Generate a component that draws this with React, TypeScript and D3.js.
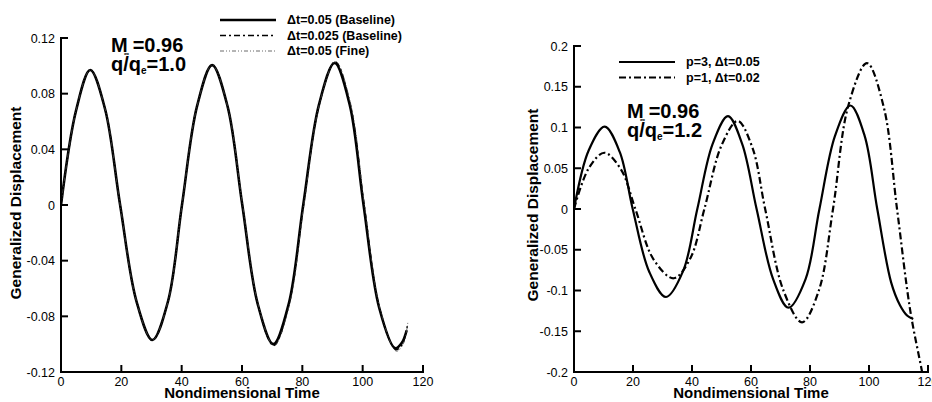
import React from 'react';
import * as d3 from 'd3';

// Two panels of generalized displacement vs nondimensional time.

const W = 932;
const H = 402;
const FONT = 'Liberation Sans, Arial, Helvetica, sans-serif';

// Left panel: three time-step studies, M=0.96, q/qe=1.0
const L_BASE_T = [0, 5, 9.7, 14.6, 19.6, 25, 30.3, 35.5, 40.1, 45.1, 50.1, 55.2, 60.1, 65.2, 70.4, 75.5, 80.3, 85.5, 90.7, 95.7, 100.3, 105.5, 110.8, 113, 114.6];
const L_BASE_V = [0, 0.068, 0.097, 0.069, 0, -0.069, -0.097, -0.069, 0, 0.071, 0.1005, 0.071, 0, -0.071, -0.1, -0.071, 0, 0.072, 0.102, 0.072, 0, -0.074, -0.103, -0.099, -0.09];
const L_HALF_T = [0, 5, 9.7, 14.6, 19.6, 25, 30.3, 35.5, 40.1, 45.1, 50.1, 55.2, 60.1, 65.2, 70.5, 75.6, 80.4, 85.6, 90.9, 95.9, 100.5, 105.7, 111, 113.2, 114.8];
const L_HALF_V = [0, 0.068, 0.097, 0.069, 0, -0.069, -0.097, -0.069, 0, 0.071, 0.1005, 0.071, 0, -0.071, -0.101, -0.071, 0, 0.072, 0.103, 0.072, 0, -0.075, -0.104, -0.1, -0.087];
const L_FINE_T = [0, 5, 9.7, 14.6, 19.6, 25, 30.3, 35.5, 40.1, 45.1, 50.1, 55.2, 60.2, 65.3, 70.6, 75.7, 80.5, 85.7, 91, 96, 100.6, 105.8, 111.2, 113.4, 115];
const L_FINE_V = [0, 0.068, 0.097, 0.069, 0, -0.069, -0.097, -0.069, 0, 0.071, 0.1005, 0.071, 0, -0.071, -0.101, -0.072, 0, 0.073, 0.103, 0.073, 0, -0.075, -0.105, -0.1, -0.084];

const L_Y_TICKS = [-0.12, -0.08, -0.04, 0, 0.04, 0.08, 0.12];
const L_Y_LABELS = ['-0.12', '-0.08', '-0.04', '0', '0.04', '0.08', '0.12'];
const L_LEGEND = ['\u0394t=0.05 (Baseline)', '\u0394t=0.025 (Baseline)', '\u0394t=0.05 (Fine)'];

// Right panel: p=3 vs p=1, M=0.96, q/qe=1.2
const R_P3_T = [0, 5, 10.4, 15.5, 19.9, 25.5, 31.2, 37, 41.8, 47, 52.2, 57, 61.9, 67.5, 72.7, 78.5, 83.2, 88.5, 93.7, 98.5, 102.8, 107.5, 110.5, 113, 115];
const R_P3_V = [0, 0.072, 0.101, 0.07, 0, -0.077, -0.108, -0.076, 0, 0.08, 0.114, 0.08, 0, -0.086, -0.121, -0.086, 0, 0.09, 0.127, 0.09, 0, -0.09, -0.118, -0.131, -0.135];
const R_P1_T = [0, 5, 10.3, 16, 20.8, 27, 33.8, 39.5, 44.2, 50, 55.5, 60.5, 64.8, 71, 77.3, 83, 87.8, 93, 99.3, 105, 109.5, 114, 118, 120];
const R_P1_V = [0, 0.05, 0.069, 0.048, 0, -0.062, -0.085, -0.06, 0, 0.078, 0.108, 0.075, 0, -0.1, -0.139, -0.1, 0, 0.127, 0.179, 0.125, 0, -0.125, -0.2, -0.24];

const R_Y_TICKS = [-0.2, -0.15, -0.1, -0.05, 0, 0.05, 0.1, 0.15, 0.2];
const R_Y_LABELS = ['-0.2', '-0.15', '-0.1', '-0.05', '0', '0.05', '0.1', '0.15', '0.2'];
const R_LEGEND = ['p=3, \u0394t=0.05', 'p=1, \u0394t=0.02'];

const X_TICKS = [0, 20, 40, 60, 80, 100, 120];

type Series = { t: number[]; v: number[]; width: number; dash?: string; color: string };

function Panel({
  id, x0, x1, yTop, yBot, yDomain, yTicks, yLabels, series, legend, legendX, legendY,
  noteX, noteY, qText, titleX, titleY,
}: {
  id: string; x0: number; x1: number; yTop: number; yBot: number; yDomain: [number, number];
  yTicks: number[]; yLabels: string[]; series: Series[]; legend: string[];
  legendX: number; legendY: number; noteX: number; noteY: number; qText: string;
  titleX: number; titleY: number;
}) {
  const x = d3.scaleLinear().domain([0, 120]).range([x0, x1]);
  const y = d3.scaleLinear().domain(yDomain).range([yBot, yTop]);
  const line = d3.line<[number, number]>().x((d) => x(d[0])).y((d) => y(d[1])).curve(d3.curveCatmullRom.alpha(0.5));

  return (
    <g>
      <defs>
        <clipPath id={`clip-${id}`}>
          <rect x={x0} y={yTop - 2} width={x1 - x0 + 4} height={yBot - yTop + 2} />
        </clipPath>
      </defs>
      {/* curves */}
      <g clipPath={`url(#clip-${id})`}>
        {series.map((s, i) => (
          <path
            key={i}
            d={line(s.t.map((t, k) => [t, s.v[k]] as [number, number])) ?? ''}
            fill="none"
            stroke={s.color}
            strokeWidth={s.width}
            strokeDasharray={s.dash}
            strokeLinejoin="round"
          />
        ))}
      </g>
      {/* axes */}
      <line x1={x0} x2={x0} y1={yTop - 1} y2={yBot + 1} stroke="#000" strokeWidth={2} />
      <line x1={x0 - 1} x2={x1 + 1} y1={yBot} y2={yBot} stroke="#000" strokeWidth={2} />
      {yTicks.map((v, i) => (
        <g key={`y${i}`}>
          <line x1={x0} x2={x0 + 7} y1={y(v)} y2={y(v)} stroke="#000" strokeWidth={2} />
          <text x={x0 - 6} y={y(v) + 4.5} textAnchor="end" fontSize={12.5} fontFamily={FONT}>
            {yLabels[i]}
          </text>
        </g>
      ))}
      {X_TICKS.map((t) => (
        <g key={`x${t}`}>
          <line x1={x(t)} x2={x(t)} y1={yBot} y2={yBot - 7} stroke="#000" strokeWidth={2} />
          <text x={x(t)} y={386} textAnchor="middle" fontSize={12.5} fontFamily={FONT}>
            {t}
          </text>
        </g>
      ))}
      <text x={(x0 + x1) / 2} y={398} textAnchor="middle" fontSize={15} fontWeight="bold" fontFamily={FONT}>
        Nondimensional Time
      </text>
      <text
        x={titleX}
        y={titleY}
        textAnchor="middle"
        fontSize={15.5}
        fontWeight="bold"
        fontFamily={FONT}
        transform={`rotate(-90, ${titleX}, ${titleY})`}
      >
        Generalized Displacement
      </text>
      {/* legend */}
      {legend.map((lab, i) => {
        const s = series[i];
        const ly = legendY + i * 15.5;
        return (
          <g key={`lg${i}`}>
            <line x1={legendX} x2={legendX + 56} y1={ly} y2={ly} stroke={s.color} strokeWidth={s.width} strokeDasharray={s.dash} />
            <text x={legendX + 67} y={ly + 4} fontSize={12.5} fontWeight="bold" fontFamily={FONT}>
              {lab}
            </text>
          </g>
        );
      })}
      {/* flow conditions */}
      <g fontFamily={FONT} fontWeight="bold">
        <text x={noteX} y={noteY} fontSize={20}>
          M<tspan dx={5}>=0.96</tspan>
        </text>
        <text x={noteX + 13} y={noteY + 4} fontSize={7}>{'\u221E'}</text>
        <text x={noteX} y={noteY + 19} fontSize={20}>
          q/q<tspan fontSize={10} dy={3}>e</tspan>
          <tspan dy={-3}>{qText}</tspan>
        </text>
      </g>
    </g>
  );
}

export default function App() {
  const leftSeries: Series[] = [
    { t: L_BASE_T, v: L_BASE_V, width: 2.6, color: '#000' },
    { t: L_HALF_T, v: L_HALF_V, width: 1.4, dash: '6,3,2,3', color: '#000' },
    { t: L_FINE_T, v: L_FINE_V, width: 0.8, dash: '4,2,1,2,1,2', color: '#444' },
  ];
  const rightSeries: Series[] = [
    { t: R_P3_T, v: R_P3_V, width: 2.2, color: '#000' },
    { t: R_P1_T, v: R_P1_V, width: 2.2, dash: '7,3,2,3', color: '#000' },
  ];
  return (
    <svg
      width={W}
      height={H}
      viewBox={`0 0 ${W} ${H}`}
      style={{ position: 'absolute', left: 0, top: 0, background: '#fff' }}
    >
      <rect width={W} height={H} fill="#fff" />
      <Panel
        id="left" x0={61} x1={423} yTop={38} yBot={372} yDomain={[-0.12, 0.12]}
        yTicks={L_Y_TICKS} yLabels={L_Y_LABELS} series={leftSeries} legend={L_LEGEND}
        legendX={220} legendY={20} noteX={111} noteY={52} qText="=1.0" titleX={21} titleY={203}
      />
      <Panel
        id="right" x0={574} x1={928} yTop={46} yBot={372} yDomain={[-0.2, 0.2]}
        yTicks={R_Y_TICKS} yLabels={R_Y_LABELS} series={rightSeries} legend={R_LEGEND}
        legendX={619} legendY={62} noteX={627} noteY={118} qText="=1.2" titleX={538} titleY={205}
      />
    </svg>
  );
}
